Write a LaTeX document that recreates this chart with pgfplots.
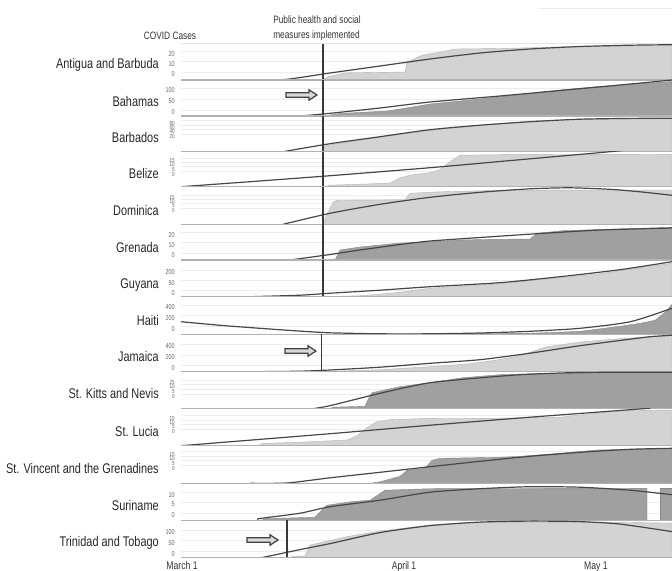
\documentclass[border=0pt]{standalone}
\usepackage{fontspec}
\setmainfont{Liberation Sans}[FakeStretch=0.78]
\usepackage{pgfplots}
\pgfplotsset{compat=1.18}
\definecolor{lightA}{RGB}{211,211,211}
\definecolor{darkA}{RGB}{160,160,160}
\newcommand{\tickfont}{\fontsize{5.3}{5.5}\selectfont}
\newcommand{\smtickfont}{\fontsize{4.4}{4.5}\selectfont}
\newcommand{\namefont}{\fontsize{10.5}{12}\selectfont}
\newcommand{\headfont}{\fontsize{8}{9}\selectfont}
\newcommand{\axfont}{\fontsize{8.3}{9}\selectfont}
\pgfplotsset{
  crow/.style={anchor=north west, scale only axis, width=368.25pt,
    xmin=0, xmax=72.2, ymin=0, axis line style={draw=none},
    major tick length=0pt, xtick=\empty, ymajorgrids,
    grid style={black!7, line width=0.4pt},
    yticklabel style={font=\tickfont, text=black!60, anchor=east, inner sep=0pt, xshift=-4.5pt, text height=0.66em, text depth=0pt},
    clip=true,
    after end axis/.append code={\draw[black!30, line width=0.8pt] (rel axis cs:0,0) -- (rel axis cs:1,0);}},
  fourtick/.style={yticklabel style={font=\smtickfont}},
  lightarea/.style={fill=lightA, draw=lightA!85!black, line width=0.3pt},
  darkarea/.style={fill=darkA, draw=darkA!85!black, line width=0.3pt},
  fitcurve/.style={black!72, line width=0.9pt, smooth, tension=0.4},
  mline/.style={black!78, line width=1pt},
}
\begin{document}
\begin{tikzpicture}
\useasboundingbox (0,0) rectangle (504pt,-428.25pt);
% 1 Antigua and Barbuda
\begin{axis}[crow, at={(135.75pt,-32.78pt)}, height=27.23pt, ymax=36.3,
  ytick={7.7,18.3,28.3}, yticklabels={0,10,20},
  after end axis/.append code={\draw[black!10, line width=0.6pt] (rel axis cs:0,1) -- (rel axis cs:1,1);}]
\addplot[lightarea] coordinates {(20.88,0) (21.47,3) (24.12,7) (32.94,8) (33.24,18) (35.59,25) (38.09,28) (40.29,31) (46.91,31.5) (58.68,33.5) (72.2,34.5)} \closedcycle;
\addplot[fitcurve] coordinates {(11.62,0) (15.59,0.7) (21.91,7) (29.26,14) (36.62,21) (43.97,27) (51.32,31) (58.68,33.5) (66.03,34.8) (72.2,35.3)};
\addplot[mline] coordinates {(20.88,0) (20.88,36.3)};
\end{axis}
% 2 Bahamas
\begin{axis}[crow, at={(135.75pt,-60pt)}, height=27pt, ymax=36,
  ytick={6,17,27.7}, yticklabels={0,50,100}]
\addplot[darkarea] coordinates {(20.88,0) (21.91,1) (23.38,2.5) (30.29,5) (32.21,7) (36.62,12) (43.97,17) (51.32,22.5) (55.74,26) (61.62,29.5) (67.5,32.5) (72.2,34.5)} \closedcycle;
\addplot[fitcurve] coordinates {(14.12,0) (17.94,0.3) (21.91,2.7) (29.26,8) (36.62,14) (46.91,20) (55.74,25.5) (64.56,31) (72.2,36)};
\addplot[mline] coordinates {(20.88,0) (20.88,36)};
\end{axis}
% 3 Barbados
\begin{axis}[crow, fourtick, at={(135.75pt,-87pt)}, height=26.78pt, ymax=35.7,
  ytick={17.4,22.4,26.7,31}, yticklabels={20,40,60,80}]
\addplot[lightarea] coordinates {(20.88,0) (21.18,6) (23.38,8.5) (29.26,14.5) (36.62,21.5) (43.97,26.5) (51.32,30.5) (58.68,32.5) (72.2,33)} \closedcycle;
\addplot[fitcurve] coordinates {(15.0,0) (21.91,8) (29.26,15) (36.62,22) (43.97,26.5) (51.32,30) (58.68,32.5) (66.03,33.3) (72.2,33.4)};
\addplot[mline] coordinates {(20.88,0) (20.88,35.7)};
\end{axis}
% 4 Belize
\begin{axis}[crow, fourtick, at={(135.75pt,-113.78pt)}, height=26.25pt, ymax=35,
  ytick={15,20,24.4,28.4}, yticklabels={0,5,10,15}]
\addplot[lightarea] coordinates {(21.18,0) (21.91,1.5) (30.74,3.5) (32.21,9) (34.12,12) (36.62,14) (38.09,17) (39.56,25) (41.03,31.5) (46.91,32) (72.2,32.5)} \closedcycle;
\addplot[fitcurve] coordinates {(0,0) (10.15,5) (21.91,11) (36.62,19) (49.85,27) (63.09,35) (67.5,38)};
\addplot[mline] coordinates {(20.88,0) (20.88,35)};
\end{axis}
% 5 Dominica
\begin{axis}[crow, fourtick, at={(135.75pt,-140.03pt)}, height=28.2pt, ymax=37.6,
  ytick={16,21,25,29.3}, yticklabels={0,5,10,15}]
\addplot[lightarea] coordinates {(20.88,0) (21.32,8) (22.35,22) (22.94,24) (32.94,24.5) (33.68,31) (38.09,32.5) (46.91,34) (61.62,34.3) (72.2,34.3)} \closedcycle;
\addplot[fitcurve] coordinates {(15.0,0) (21.91,11) (29.26,20) (36.62,27) (43.97,32) (51.32,35.5) (57.21,36.5) (63.09,35) (67.5,32.5) (72.2,29)};
\addplot[mline] coordinates {(20.88,0) (20.88,37.6)};
\end{axis}
% 6 Grenada
\begin{axis}[crow, at={(135.75pt,-168.23pt)}, height=26.78pt, ymax=35.7,
  ytick={6.7,17.3,27.3}, yticklabels={0,10,20}]
\addplot[darkarea] coordinates {(22.65,0) (22.94,4) (23.38,10) (26.32,13) (31.76,16.7) (36.62,18.3) (41.03,20) (44.41,20.5) (51.32,21) (52.35,26.7) (56.18,29.3) (61.62,30.5) (72.2,32.7)} \closedcycle;
\addplot[fitcurve] coordinates {(16.03,0) (21.91,5.5) (26.32,10) (32.21,15.5) (36.62,19) (43.97,22.5) (52.79,26.5) (61.62,30) (72.2,32)};
\addplot[mline] coordinates {(20.88,0) (20.88,35.7)};
\end{axis}
% 7 Guyana
\begin{axis}[crow, at={(135.75pt,-195pt)}, height=27.53pt, ymax=36.7,
  ytick={6,16,26.7}, yticklabels={0,50,200}]
\addplot[lightarea] coordinates {(20.88,0) (26.32,1) (29.26,2.5) (32.21,4.5) (36.62,8.5) (46.91,13) (55.74,19) (61.62,23) (67.5,29) (72.2,33.4)} \closedcycle;
\addplot[fitcurve] coordinates {(10.15,0) (17.5,1.5) (21.91,3.5) (29.26,6.5) (36.62,10) (46.91,14) (55.74,20) (64.56,27) (72.2,35)};
\addplot[mline] coordinates {(20.88,0) (20.88,36.7)};
\end{axis}
% 8 Haiti
\begin{axis}[crow, at={(135.75pt,-222.53pt)}, height=28.2pt, ymax=37.6,
  ytick={7.6,18.6,29.3}, yticklabels={0,200,400}]
\addplot[darkarea] coordinates {(32.21,0) (39.56,0.5) (51.32,1) (58.68,3) (64.56,8) (67.5,11) (69.71,14) (71.18,22) (72.2,30)} \closedcycle;
\addplot[fitcurve] coordinates {(0,12.6) (5.74,9) (11.62,6) (17.5,3.2) (21.91,1.5) (29.26,0.5) (36.62,0.5) (43.97,1.3) (51.32,3) (58.68,6) (66.03,12.5) (72.2,26)};
\end{axis}
% 9 Jamaica
\begin{axis}[crow, at={(135.75pt,-250.73pt)}, height=28.05pt, ymax=37.4,
  ytick={6,16.7,27.4}, yticklabels={0,200,400}]
\addplot[lightarea] coordinates {(20.44,0) (29.26,2) (36.62,5) (42.5,8) (46.47,11.7) (49.85,16) (53.82,25) (59.12,30) (64.56,33) (69.0,35) (72.2,36)} \closedcycle;
\addplot[fitcurve] coordinates {(10.59,0) (17.5,0.5) (21.91,1.7) (29.26,4.5) (36.62,8.4) (43.97,12) (51.32,18.5) (58.68,26) (66.03,32.5) (69.0,35) (72.2,36.5)};
\addplot[mline] coordinates {(20.69,0) (20.69,37.4)};
\end{axis}
% 10 St. Kitts and Nevis
\begin{axis}[crow, fourtick, at={(135.75pt,-278.78pt)}, height=27.75pt, ymax=37,
  ytick={14.7,19.7,24.4,28.7}, yticklabels={0,5,10,25}]
\addplot[darkarea] coordinates {(21.91,0) (22.35,1.5) (27.06,2.5) (27.5,9) (28.09,16) (32.21,22) (36.62,26) (41.47,31) (46.91,34) (53.82,35.3) (72.2,36.5)} \closedcycle;
\addplot[fitcurve] coordinates {(19.41,0) (21.91,3) (27.79,13) (32.21,20) (36.62,26) (42.5,30) (49.85,34) (57.21,36) (64.56,36.5) (72.2,36.5)};
\end{axis}
% 11 St. Lucia
\begin{axis}[crow, fourtick, at={(135.75pt,-306.53pt)}, height=27.75pt, ymax=37,
  ytick={16.7,21.4,25.7,30}, yticklabels={0,5,10,15}]
\addplot[lightarea] coordinates {(11.32,0) (12.06,2.3) (17.5,3.5) (24.41,5.7) (25.88,10) (27.35,18) (28.82,24) (30.74,26) (36.62,27.4) (46.91,27.5) (55.74,28.5) (61.62,33) (65.0,35) (72.2,35.7)} \closedcycle;
\addplot[fitcurve] coordinates {(0,0) (21.91,12) (36.62,20.5) (51.32,28.5) (66.03,36) (69.0,37.5)};
\end{axis}
% 12 St. Vincent and the Grenadines
\begin{axis}[crow, fourtick, at={(135.75pt,-334.28pt)}, height=28.2pt, ymax=37.6,
  ytick={17.6,22.6,27.3,31.6}, yticklabels={0,5,10,15}]
\addplot[darkarea] coordinates {(27.79,0) (29.26,1.5) (32.21,7) (33.24,13) (35.88,15) (36.91,23) (38.09,25) (46.91,26) (49.85,27) (55.74,30) (61.18,33.3) (72.2,35)} \closedcycle;
\addplot[fitcurve] coordinates {(10.15,0) (15.59,0.3) (21.91,5.5) (29.26,11) (36.62,16.6) (43.97,22) (51.32,27) (58.68,31) (66.03,34) (72.2,35)};
\end{axis}
% 13 Suriname
\begin{axis}[crow, at={(135.75pt,-362.48pt)}, height=27.68pt, ymax=36.9,
  ytick={6.9,17.9,27.5}, yticklabels={0,5,10}]
\addplot[darkarea] coordinates {(11.91,0) (12.35,1.5) (19.71,3) (20.44,8) (21.47,15) (25.29,18.7) (27.79,20) (30.0,30) (36.62,31.5) (68.53,32)} \closedcycle;
\addplot[darkarea] coordinates {(70.44,32) (72.2,32)} \closedcycle;
\addplot[fitcurve] coordinates {(11.18,1) (11.91,2) (17.5,7) (21.91,13.5) (29.26,20) (36.62,28) (43.97,31.5) (51.32,33.5) (58.68,33) (66.03,30) (72.2,25.5)};
\end{axis}
% 14 Trinidad and Tobago
\begin{axis}[crow, at={(135.75pt,-390.15pt)}, height=28.05pt, ymax=37.4,
  ytick={5.9,16.9,27.6}, yticklabels={0,50,100},
  xtick={0.15,32.8,61}, xticklabels={March 1,April 1,May 1},
  xticklabel style={font=\axfont, text=black!80, anchor=north, inner sep=0pt, yshift=-3pt}]
\addplot[lightarea] coordinates {(16.03,0) (16.47,1.3) (18.24,1.5) (18.97,12.5) (24.41,21) (29.26,26.5) (36.62,32.6) (41.03,34.5) (46.91,35.5) (61.62,35.5) (72.2,34.5)} \closedcycle;
\addplot[fitcurve] coordinates {(11.91,0) (17.5,8) (21.91,14) (29.26,25) (36.62,32) (43.97,35.5) (51.32,36.5) (58.68,36) (64.56,33.5) (72.2,26)};
\addplot[mline] coordinates {(15.59,0) (15.59,37.4)};
\end{axis}
\begin{scope}[x=0.75pt,y=-0.75pt]
\draw[black!8, line width=1.2pt] (538,8.5) -- (672,8.5);
\node[anchor=base, font=\headfont, text=black!80, inner sep=0pt] at (170,39) {COVID Cases};
\node[anchor=base west, font=\headfont, text=black!80, inner sep=0pt] at (273,23.5) {Public health and social};
\node[anchor=base west, font=\headfont, text=black!80, inner sep=0pt] at (273,38.5) {measures implemented};
\foreach \nm/\yy in {Antigua and Barbuda/68.5, Bahamas/106, Barbados/142.3, Belize/178, Dominica/215, Grenada/252, Guyana/288.8, Haiti/325.5, Jamaica/361.5, St. Kitts and Nevis/398.3, St. Lucia/436, St. Vincent and the Grenadines/473, Suriname/510.3, Trinidad and Tobago/546.5}
  \node[anchor=base east, font=\namefont, text=black!85, inner sep=0pt] at (159,\yy) {\nm};
\foreach \xa/\yc in {286/95, 285/351, 247/540}{
  \draw[black!75, line width=0.9pt, fill=black!15] (\xa,\yc-2.2) -- (\xa+23,\yc-2.2) -- (\xa+23,\yc-5.2) -- (\xa+31,\yc) -- (\xa+23,\yc+5.2) -- (\xa+23,\yc+2.2) -- (\xa,\yc+2.2) -- cycle;
}
\end{scope}
\end{tikzpicture}
\end{document}
